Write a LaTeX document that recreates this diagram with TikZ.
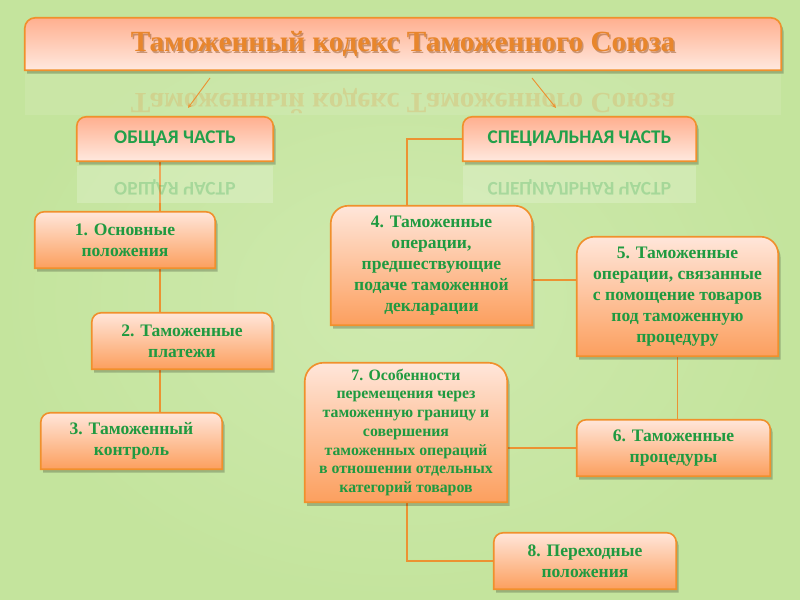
\documentclass[tikz,border=0pt]{standalone}
\usepackage{fontspec}
\setmainfont{Liberation Serif}
\newfontfamily\hdrfont{Carlito}
\definecolor{bgGreen}{HTML}{C4E49D}
\definecolor{bgLight}{HTML}{CFEAAF}
\definecolor{itemTop}{HTML}{FFE6DA}
\definecolor{itemBot}{HTML}{FC9F5E}
\definecolor{hdrTop}{HTML}{FFAF8F}
\definecolor{hdrBot}{HTML}{FFE9DF}
\definecolor{boxLine}{HTML}{F0902C}
\definecolor{lineOrange}{HTML}{EC9232}
\definecolor{txtGreen}{HTML}{1F9A40}
\definecolor{hdrGreen}{HTML}{22A04A}
\definecolor{titleOrange}{HTML}{E8862C}
\definecolor{titleShadow}{HTML}{8A4A18}
\pgfdeclarelayer{bg}
\pgfdeclarelayer{lines}
\pgfdeclarelayer{boxes}
\pgfsetlayers{bg,lines,boxes,main}
\begin{document}
\begin{tikzpicture}[x=0.03cm,y=-0.03cm,
  item/.style={font=\fontsize{15}{18}\selectfont\bfseries, text=txtGreen,
    align=center, inner sep=0pt, minimum height=1.68cm},
  small/.style={font=\fontsize{13.5}{16}\selectfont\bfseries},
  head/.style={font=\hdrfont\fontsize{16.5}{20}\selectfont\bfseries,
    text=hdrGreen, inner sep=0pt, minimum height=1.32cm},
  titletxt/.style={font=\fontsize{25}{30}\selectfont\bfseries, inner sep=0pt},
  link/.style={draw=lineOrange, line width=1.3pt},
  arrow/.style={lineOrange, line width=.8pt, -stealth}]
  \useasboundingbox (0,0) rectangle (800,600);
  \begin{pgfonlayer}{bg}
    \shade[inner color=bgLight, outer color=bgGreen] (0,0) rectangle (800,600);
  \end{pgfonlayer}

  % Title and the two parts
  \node[titletxt, minimum width=22.68cm, minimum height=1.56cm] (title) at (403,44) {};
  \node[titletxt, text=titleShadow, opacity=.45] (titleshadow) at (404.5,45.5)
    {Таможенный кодекс Таможенного Союза};
  \node[titletxt, text=titleOrange] (titletext) at (403,44)
    {Таможенный кодекс Таможенного Союза};
  \node[head, minimum width=5.88cm] (gen) at (175,139) {ОБЩАЯ ЧАСТЬ};
  \node[head, minimum width=6.99cm] (spec) at (579.5,139) {СПЕЦИАЛЬНАЯ ЧАСТЬ};

  % Reflections
  \fill[white, opacity=.1] ([yshift=-3pt]title.south west) rectangle ([yshift=-38pt]title.south east);
  \fill[white, opacity=.2] ([yshift=-4pt]gen.south west) rectangle ([yshift=-36pt]gen.south east);
  \fill[white, opacity=.2] ([yshift=-4pt]spec.south west) rectangle ([yshift=-36pt]spec.south east);
  \node[titletxt, text=titleOrange, opacity=.2] (titlerefl) at (403,101)
    {\scalebox{1}[-1]{Таможенный кодекс Таможенного Союза}};
  \node[head, opacity=.25, minimum height=0pt] (genrefl) at (175,187)
    {\scalebox{1}[-1]{ОБЩАЯ ЧАСТЬ}};
  \node[head, opacity=.25, minimum height=0pt] (specrefl) at (579.5,187)
    {\scalebox{1}[-1]{СПЕЦИАЛЬНАЯ ЧАСТЬ}};

  % Arrows
  \coordinate (arrL) at (210,78);
  \coordinate (arrLend) at (188,108);
  \coordinate (arrR) at (532,78);
  \coordinate (arrRend) at (556,108);
  \draw[arrow] (arrL) -- (arrLend);
  \draw[arrow] (arrR) -- (arrRend);

  % General part
  \node[item, minimum width=5.4cm] (b1) at (125,240) {1. Основные\\положения};
  \node[item, minimum width=5.4cm] (b2) at (182,341) {2. Таможенные\\платежи};
  \node[item, minimum width=5.43cm] (b3) at (131.5,441) {3. Таможенный\\контроль};

  % Special part
  \node[item, minimum width=6.03cm, minimum height=3.57cm] (b4) at (431.5,265.5)
    {4. Таможенные\\операции,\\предшествующие\\подаче таможенной\\декларации};
  \node[item, minimum width=6.03cm, minimum height=3.57cm] (b5) at (677.5,296.5)
    {5. Таможенные\\операции, связанные\\с помощение товаров\\под таможенную\\процедуру};
  \node[item, minimum width=5.79cm] (b6) at (673.5,448) {6. Таможенные\\процедуры};
  \node[item, small, minimum width=6.06cm, minimum height=4.17cm] (b7) at (406,432.5)
    {7. Особенности\\перемещения через\\таможенную границу и\\совершения\\таможенных операций\\в отношении отдельных\\категорий товаров};
  \node[item, minimum width=5.46cm] (b8) at (585,561) {8. Переходные\\положения};

  % Box bodies
  \begin{pgfonlayer}{boxes}
    \foreach \n/\tone/\rad in {title/hdr/9,gen/hdr/8,spec/hdr/8,b1/item/8,b2/item/8,b3/item/8,
                               b4/item/15,b5/item/15,b6/item/8,b7/item/16,b8/item/8}{
      \fill[black, opacity=.22, transform canvas={shift={(2pt,-3pt)}}] (\n.south west)
        -- ([yshift=-\rad pt]\n.north west) arc[start angle=180, end angle=90, radius=\rad pt]
        -- ([xshift=-\rad pt]\n.north east) arc[start angle=90, end angle=0, radius=\rad pt]
        -- (\n.south east) -- cycle;
      \shade[top color=\tone Top, bottom color=\tone Bot, draw=boxLine, line width=1.4pt]
        (\n.south west)
        -- ([yshift=-\rad pt]\n.north west) arc[start angle=180, end angle=90, radius=\rad pt]
        -- ([xshift=-\rad pt]\n.north east) arc[start angle=90, end angle=0, radius=\rad pt]
        -- (\n.south east) -- cycle;
    }
  \end{pgfonlayer}

  % Connectors
  \coordinate (trunkL) at (160,0);
  \coordinate (colR) at (407,0);
  \coordinate (midR) at (0,280);
  \begin{pgfonlayer}{lines}
    \draw[link] (gen.south -| trunkL) -- (b3.north -| trunkL);
    \draw[link] (spec.west) -| (b4.north -| colR);
    \draw[link] (b4.east |- midR) -- (b5.west |- midR);
    \draw[link] (b5.south) -- (b6.north -| b5.south);
    \draw[link] (b7.east |- b6.west) -- (b6.west);
    \draw[link] (b7.south -| colR) |- (b8.west);
  \end{pgfonlayer}
\end{tikzpicture}
\end{document}
